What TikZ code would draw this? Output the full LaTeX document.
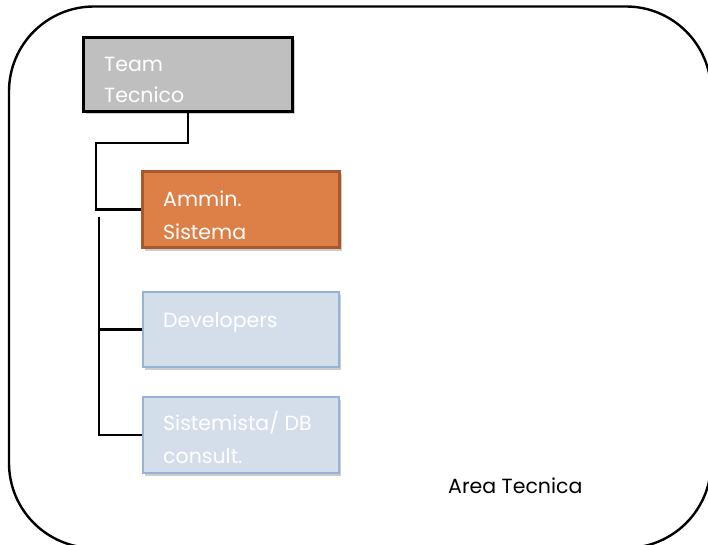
\documentclass[tikz,border=0pt]{standalone}
\usepackage{fontspec}
\setmainfont{Poppins}
\usetikzlibrary{shadows}
\definecolor{graybox}{HTML}{BFBFBF}
\definecolor{orangebox}{HTML}{DD8047}
\definecolor{orangeline}{HTML}{A9582C}
\definecolor{bluebox}{HTML}{D3DEEA}
\definecolor{blueline}{HTML}{95B3D7}
\tikzset{
  box/.style={rectangle, inner sep=0pt, drop shadow={shadow xshift=2pt, shadow yshift=-3pt, opacity=0.4}},
  conn/.style={line width=2.4pt, black},
  txt/.style={anchor=base west, inner sep=0pt, text=white, font=\fontsize{20.5}{20.5}\selectfont},
  lbl/.style={anchor=base west, inner sep=0pt, text=black, font=\fontsize{20.5}{20.5}\selectfont},
  outer/.style={line width=2.4pt, rounded corners=85pt}
}
\begin{document}
\begin{tikzpicture}[x=1pt,y=-1pt]
\useasboundingbox (0,0) rectangle (708,545);
\clip (0,0) rectangle (708,545);
\draw[outer] (9,6.5) rectangle (711,548);

\node[box, fill=graybox, draw=black, line width=2.6pt, minimum width=209pt, minimum height=74pt] (team) at (188,74.5) {};
\node[box, fill=orangebox, draw=orangeline, line width=2.2pt, minimum width=197pt, minimum height=76pt] (ammin) at (241,209.5) {};
\node[box, fill=bluebox, draw=blueline, line width=1.6pt, minimum width=196pt, minimum height=75pt] (dev) at (241,329.5) {};
\node[box, fill=bluebox, draw=blueline, line width=1.6pt, minimum width=196pt, minimum height=76pt] (sist) at (241,435) {};

\node[txt] (t1) at (104,72) {Team};
\node[txt] (t2) at (104,103) {Tecnico};
\node[txt] (a1) at (163,207) {Ammin.};
\node[txt] (a2) at (163,239) {Sistema};
\node[txt] (d1) at (163,327) {Developers};
\node[txt] (s1) at (163,430) {Sistemista/ DB};
\node[txt] (s2) at (163,463) {consult.};
\node[lbl] (area) at (448,493) {Area Tecnica};

\coordinate (j1) at (96,143);
\coordinate (j2) at (99,217);
\draw[conn] (team.south) |- (j1) |- (ammin.west);
\draw[conn] (j2) |- (sist.west);
\draw[conn] (dev.west) -- (dev.west -| j2);
\end{tikzpicture}
\end{document}
